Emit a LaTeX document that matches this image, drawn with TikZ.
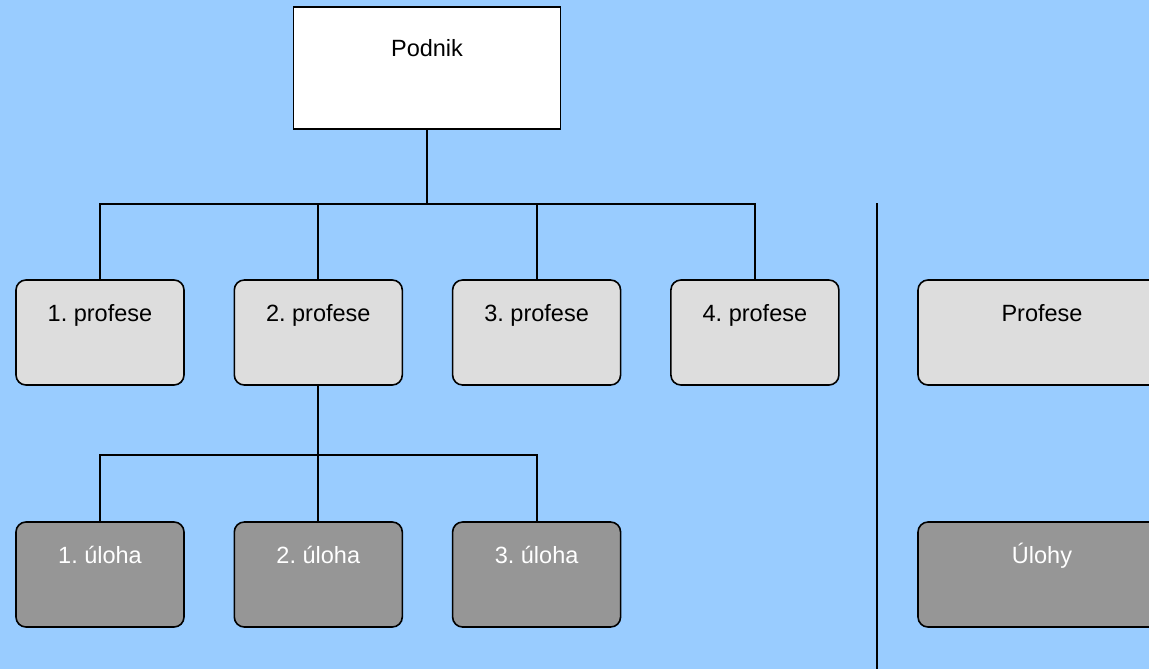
\documentclass[tikz,border=0pt]{standalone}
\usepackage[dvipsnames]{xcolor}
\usepackage{fontspec}
\setmainfont{Liberation Sans}
\frenchspacing
\usepackage{tikz}
\usetikzlibrary{positioning}
\definecolor{bgblue}{HTML}{99CCFF}
\definecolor{profgray}{HTML}{DDDDDD}
\definecolor{ulohagray}{HTML}{969696}
\tikzset{
  profbox/.style={draw=black,fill=profgray,rounded corners=5pt,line width=0.8pt,
    minimum width=84pt,text height=20.75pt,text depth=31.75pt,inner xsep=0pt,inner ysep=0pt,
    font=\fontsize{11.75}{14}\selectfont},
  ulohabox/.style={profbox,fill=ulohagray,text=white},
  link/.style={line width=1pt}
}

\begin{document}
\begin{tikzpicture}[x=0.5pt,y=-0.5pt]
\clip (0,0) rectangle (1149,669);
\fill[color=bgblue] (0,0) rectangle (1149,669);
\node[draw=black,fill=white,line width=0.8pt,minimum width=133.5pt,text height=24.75pt,text depth=36.25pt,inner xsep=0pt,inner ysep=0pt,font=\fontsize{11.75}{14}\selectfont] (podnik) at (427,68) {Podnik};
\node[profbox] (p1) at (100,332.5) {1. profese};
\node[profbox,right=24.35pt of p1] (p2) {2. profese};
\node[profbox,right=24.35pt of p2] (p3) {3. profese};
\node[profbox,right=24.35pt of p3] (p4) {4. profese};
\node[ulohabox] (u1) at (100,574.5) {1. úloha};
\node[ulohabox,right=24.35pt of u1] (u2) {2. úloha};
\node[ulohabox,right=24.35pt of u2] (u3) {3. úloha};
\node[profbox,minimum width=124pt] (prof) at (1042,332.5) {Profese};
\node[ulohabox,minimum width=124pt] (ulohy) at (1042,574.5) {Úlohy};
\coordinate (busA) at (427,204);
\coordinate (busB) at (318,455);
\coordinate (divtop) at (877,203);
\coordinate (divbot) at (877,669);
\draw[link] (podnik.south) -- (busA);
\draw[link] (p1.north) |- (busA);
\draw[link] (p2.north) |- (busA);
\draw[link] (p3.north) |- (busA);
\draw[link] (p4.north) |- (busA);
\draw[link] (p2.south) -- (u2.north);
\draw[link] (u1.north) |- (busB);
\draw[link] (u3.north) |- (busB);
\draw[link] (divtop) -- (divbot);
\end{tikzpicture}
\end{document}
